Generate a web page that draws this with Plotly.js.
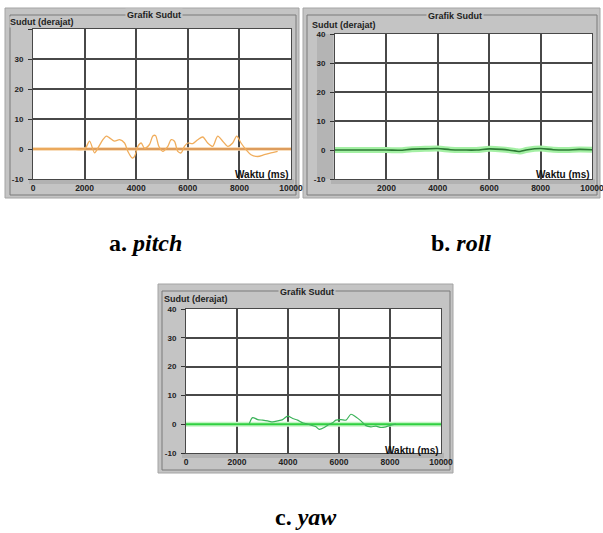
<!DOCTYPE html>
<html>
<head>
<meta charset="utf-8">
<script src="https://cdn.plot.ly/plotly-3.0.1.min.js"></script>
<style>html,body{margin:0;padding:0;background:#fff;}#chart{width:603px;height:533px;}</style>
</head>
<body>
<div id="chart"></div>
<script>
// ---- data ----
const xTickVals = [0, 2000, 4000, 6000, 8000, 10000];
const xTickText = ["0", "2000", "4000", "6000", "8000", "10000"];
const yTickVals = [-10, 0, 10, 20, 30, 40];
const yTickText = ["-10", "0", "10", "20", "30", "40"];

const refTime = [0, 10000];
const refVal = [0, 0];

const pitchTime = [0, 500, 1000, 1500, 2000, 2193, 2387, 2554, 2709, 2838, 2967, 3161, 3354, 3548, 3677, 3844, 3935, 4064, 4193, 4322, 4515, 4644, 4747, 4876, 5031, 5225, 5354, 5483, 5612, 5741, 5870, 5999, 6193, 6386, 6580, 6773, 6967, 7160, 7353, 7547, 7740, 7895, 8063, 8256, 8450, 8708, 8966, 9224, 9482];
const pitchVal = [0, 0, 0, 0, 0, 2.6, -1.3, 0.9, 3.1, 4.3, 3.7, 2.6, 3.1, 2.0, -0.8, -3.0, -2.5, 0.9, 2.0, 0.3, 1.5, 4.3, 4.5, 0.9, -0.8, 0.9, 3.1, 2.6, -0.8, -1.3, 0.9, 2.0, 1.8, 3.1, 4.0, 2.0, 0.9, 4.3, 2.6, 0.9, 2.0, 4.3, 2.0, -0.2, -1.9, -2.5, -1.9, -1.3, -0.8];

const rollTime = [0, 1000, 2000, 2500, 3000, 3500, 4000, 4500, 5000, 5500, 6000, 6500, 7000, 7200, 7500, 8000, 8500, 9000, 9500, 10000];
const rollVal = [0, 0, 0, -0.1, 0.3, 0.4, 0.5, 0.1, 0, 0, 0.4, 0.2, -0.3, -0.5, 0.1, 0.5, 0.1, 0, 0.2, 0.1];

const yawTime = [2483, 2613, 2810, 3006, 3202, 3398, 3594, 3790, 3986, 4182, 4378, 4574, 4704, 5096, 5227, 5423, 5553, 5749, 5880, 6076, 6272, 6468, 6664, 6860, 7056, 7252, 7448, 7644, 7840, 8036, 8232];
const yawVal = [0.2, 2.3, 1.6, 1.4, 1.15, 0.8, 1.15, 1.6, 2.8, 2.0, 1.4, 0.5, 0.2, -0.9, -1.8, -1.15, -0.35, 0.5, 1.4, 1.6, 1.4, 3.45, 2.5, 1.15, -0.5, -0.9, -0.7, -1.15, -0.9, -0.35, 0];

const panelTitle = "Grafik Sudut";
const yLabel = "Sudut (derajat)";
const xLabel = "Waktu (ms)";
const captions = ["<b>a. <i>pitch</i></b>", "<b>b. <i>roll</i></b>", "<b>c. <i>yaw</i></b>"];

// ---- layout helpers ----
const W = 603, H = 533;
const X = px => px / W;
const Y = py => 1 - py / H;

const GREY = "#c4c4c4";
const GRID = "#484848";
const SANS = "Liberation Sans, Arial, sans-serif";
const xTickFont = {family: SANS, size: 8.5, color: "#222", weight: "bold"};
const yTickFont = {family: SANS, size: 8, color: "#222", weight: "bold"};

function xAxis(l, r, anchor, ticktext) {
  return {
    domain: [X(l), X(r)], range: [0, 10000], anchor: anchor,
    tickmode: "array", tickvals: xTickVals, ticktext: ticktext,
    showgrid: true, gridcolor: GRID, gridwidth: 2,
    zeroline: false, showline: true, linecolor: GRID, linewidth: 1, mirror: true,
    ticks: "", ticklabelstandoff: 1, ticklabeloverflow: "allow",
    tickfont: xTickFont, fixedrange: true
  };
}
function yAxis(t, b, anchor, ticktext) {
  return {
    domain: [Y(b), Y(t)], range: [-10, 40], anchor: anchor,
    tickmode: "array", tickvals: yTickVals, ticktext: ticktext,
    showgrid: true, gridcolor: GRID, gridwidth: 2,
    zeroline: false, showline: true, linecolor: GRID, linewidth: 1, mirror: true,
    ticks: "outside", ticklen: 4, tickcolor: "#333", ticklabelstandoff: 3,
    tickfont: yTickFont, fixedrange: true
  };
}

const panels = [
  {outer: [5, 8, 299, 198], group: [10, 15, 296, 195], plot: [33, 29, 291, 179], title: [154, 15], ylab: [42, 22], xlab: [262, 175], cap: [145, 243]},
  {outer: [303, 8, 600, 198], group: [307, 15, 597, 195], plot: [335, 34, 592, 179], title: [455, 16], ylab: [344, 25], xlab: [563, 174], cap: [461, 243]},
  {outer: [158, 284, 453, 473], group: [162, 291, 450, 470], plot: [186, 309, 441, 453], title: [307, 292], ylab: [196, 299], xlab: [412, 450], cap: [306, 517]}
];

const shapes = [];
const annotations = [];
panels.forEach((p, i) => {
  shapes.push({type: "rect", xref: "paper", yref: "paper", layer: "below",
    x0: X(p.outer[0]), y0: Y(p.outer[1]), x1: X(p.outer[2]), y1: Y(p.outer[3]),
    fillcolor: GREY, line: {color: "#a4a4a4", width: 1}});
  shapes.push({type: "rect", xref: "paper", yref: "paper", layer: "below",
    x0: X(p.group[0]), y0: Y(p.group[1]), x1: X(p.group[2]), y1: Y(p.group[3]),
    fillcolor: "rgba(0,0,0,0)", line: {color: "#7a7a7a", width: 1}});
  shapes.push({type: "rect", xref: "paper", yref: "paper", layer: "below",
    x0: X(p.plot[0] - 4), y0: Y(p.plot[3] + 5), x1: X(p.plot[2] + 3), y1: Y(p.plot[3]),
    fillcolor: "#b2b2b2", line: {width: 0}});
  shapes.push({type: "rect", xref: "paper", yref: "paper", layer: "below",
    x0: X(p.plot[0]), y0: Y(p.plot[1]), x1: X(p.plot[2]), y1: Y(p.plot[3]),
    fillcolor: "#ffffff", line: {width: 0}});
  annotations.push({xref: "paper", yref: "paper", x: X(p.title[0]), y: Y(p.title[1]),
    text: panelTitle, showarrow: false, xanchor: "center", yanchor: "middle",
    bgcolor: GREY, borderpad: 1,
    font: {family: SANS, size: 9, color: "#222", weight: "bold"}});
  annotations.push({xref: "paper", yref: "paper", x: X(p.ylab[0]), y: Y(p.ylab[1]),
    text: yLabel, showarrow: false, xanchor: "center", yanchor: "middle",
    bgcolor: GREY, borderpad: 0,
    font: {family: SANS, size: 9, color: "#222", weight: "bold"}});
  annotations.push({xref: "paper", yref: "paper", x: X(p.xlab[0]), y: Y(p.xlab[1]),
    text: xLabel, showarrow: false, xanchor: "center", yanchor: "middle",
    font: {family: SANS, size: 10, color: "#111", weight: "bold"}});
  annotations.push({xref: "paper", yref: "paper", x: X(p.cap[0]), y: Y(p.cap[1]),
    text: captions[i], showarrow: false, xanchor: "center", yanchor: "middle",
    font: {family: "Liberation Serif, Times New Roman, serif", size: 24, color: "#000"}});
});
shapes.push({type: "rect", xref: "paper", yref: "paper", layer: "below",
  x0: X(317), y0: Y(179), x1: X(333), y1: Y(34), fillcolor: "#b4b4b4", line: {width: 0}});

const rollTicks = xTickText.map((t, i) => i === 0 ? "" : t);
const pitchYTicks = yTickText.map(t => t === "40" ? "" : t);

const traces = [
  {x: refTime, y: refVal, xaxis: "x", yaxis: "y", mode: "lines", line: {color: "#f6d3a8", width: 3.5}, hoverinfo: "skip"},
  {x: refTime, y: refVal, xaxis: "x", yaxis: "y", mode: "lines", line: {color: "#d48a45", width: 1.6}, hoverinfo: "skip"},
  {x: pitchTime, y: pitchVal, xaxis: "x", yaxis: "y", mode: "lines", line: {color: "#f0ad5c", width: 1.3, shape: "spline", smoothing: 0.8}},
  {x: rollTime, y: rollVal, xaxis: "x2", yaxis: "y2", mode: "lines", line: {color: "#a4f0a4", width: 6, shape: "spline"}, hoverinfo: "skip"},
  {x: rollTime, y: rollVal, xaxis: "x2", yaxis: "y2", mode: "lines", line: {color: "#2c7a34", width: 1.6, shape: "spline"}},
  {x: refTime, y: refVal, xaxis: "x3", yaxis: "y3", mode: "lines", line: {color: "#c4f5c4", width: 5}, hoverinfo: "skip"},
  {x: refTime, y: refVal, xaxis: "x3", yaxis: "y3", mode: "lines", line: {color: "#2fd040", width: 2}, hoverinfo: "skip"},
  {x: yawTime, y: yawVal, xaxis: "x3", yaxis: "y3", mode: "lines", line: {color: "#3cb35a", width: 1.2, shape: "spline", smoothing: 0.8}}
];

const layout = {
  width: W, height: H,
  margin: {l: 0, r: 0, t: 0, b: 0},
  paper_bgcolor: "#ffffff", plot_bgcolor: "rgba(0,0,0,0)",
  showlegend: false,
  xaxis: xAxis(33, 291, "y", xTickText),
  yaxis: yAxis(29, 179, "x", pitchYTicks),
  xaxis2: xAxis(335, 592, "y2", rollTicks),
  yaxis2: yAxis(34, 179, "x2", yTickText),
  xaxis3: xAxis(186, 441, "y3", xTickText),
  yaxis3: yAxis(309, 453, "x3", yTickText),
  shapes: shapes,
  annotations: annotations
};

Plotly.newPlot("chart", traces, layout, {displayModeBar: false, staticPlot: true});
</script>
</body>
</html>
